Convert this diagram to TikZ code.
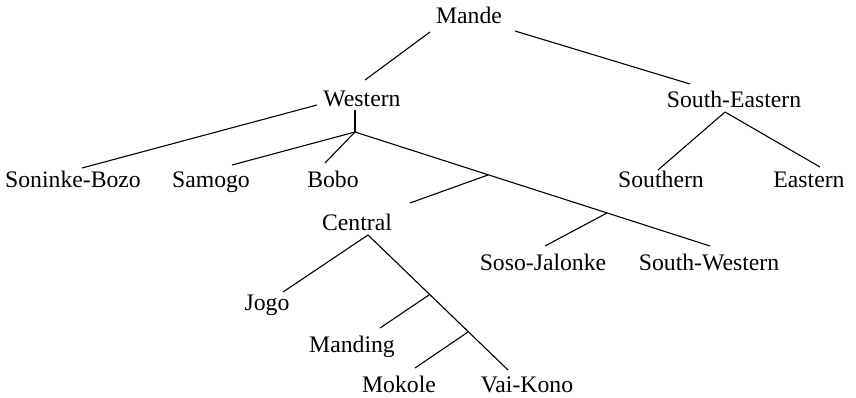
\documentclass[tikz,border=0pt]{standalone}
\usepackage{fontspec}
\setmainfont{Liberation Serif}
\begin{document}
\begin{tikzpicture}[x=1pt,y=-1pt,
  lbl/.style={anchor=base,inner sep=0pt,font=\fontsize{23.7pt}{28pt}\selectfont},
  edge/.style={line width=1.1pt,black}]
\useasboundingbox (0,0) rectangle (856,398);
% labels
\node[lbl] (mande) at (469,24) {Mande};
\node[lbl] (western) at (362,107) {Western};
\node[lbl] (seast) at (734,108) {South-Eastern};
\node[lbl] (soninke) at (73,187) {Soninke-Bozo};
\node[lbl] (samogo) at (211,187) {Samogo};
\node[lbl] (bobo) at (333,187) {Bobo};
\node[lbl] (southern) at (661,188) {Southern};
\node[lbl] (eastern) at (809,188) {Eastern};
\node[lbl] (central) at (357,230) {Central};
\node[lbl] (soso) at (543,270) {Soso-Jalonke};
\node[lbl] (swest) at (709,270) {South-Western};
\node[lbl] (jogo) at (267,310) {Jogo};
\node[lbl] (manding) at (352,352) {Manding};
\node[lbl] (mokole) at (399,392) {Mokole};
\node[lbl] (vaikono) at (527,392) {Vai-Kono};
% connector end points
\coordinate (mandeL) at (430,32);
\coordinate (westernT) at (365,80);
\coordinate (mandeR) at (515,31);
\coordinate (seastT) at (690,84);
\coordinate (westernB) at (355,110);
\coordinate (jW) at (355,132);
\coordinate (westernL) at (317,105);
\coordinate (soninkeT) at (82,168);
\coordinate (samogoT) at (232,165);
\coordinate (boboT) at (325,163);
\coordinate (swestT) at (710,246);
\coordinate (jC) at (488,175);
\coordinate (centralT) at (410,203);
\coordinate (jS) at (607,213);
\coordinate (sosoT) at (545,246);
\coordinate (seastB) at (725,112);
\coordinate (southernT) at (658,170);
\coordinate (easternT) at (820,167);
\coordinate (centralB) at (368,235);
\coordinate (jogoT) at (283,292);
\coordinate (vaikonoT) at (508,370);
\coordinate (jM) at (429,295);
\coordinate (mandingT) at (380,328);
\coordinate (jK) at (468,332);
\coordinate (mokoleT) at (415,368);
% connectors
\draw[edge] (mandeL) -- (westernT);
\draw[edge] (mandeR) -- (seastT);
\draw[edge] (westernB) -- (jW);
\draw[edge] (westernL) -- (soninkeT);
\draw[edge] (jW) -- (samogoT);
\draw[edge] (jW) -- (boboT);
\draw[edge] (jW) -- (swestT);
\draw[edge] (jC) -- (centralT);
\draw[edge] (jS) -- (sosoT);
\draw[edge] (seastB) -- (southernT);
\draw[edge] (seastB) -- (easternT);
\draw[edge] (centralB) -- (jogoT);
\draw[edge] (centralB) -- (vaikonoT);
\draw[edge] (jM) -- (mandingT);
\draw[edge] (jK) -- (mokoleT);
\end{tikzpicture}
\end{document}
